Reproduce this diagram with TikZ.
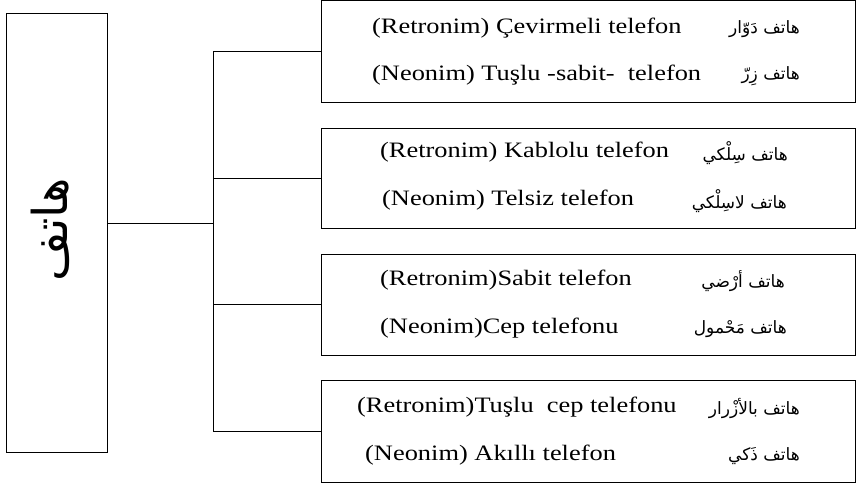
\documentclass[tikz,border=0pt]{standalone}
\usepackage{fontspec}
\TeXXeTstate=1
\setmainfont{Liberation Serif}
\newfontfamily\turk[FakeStretch=1.2]{Liberation Serif}
\newfontfamily\arabicfont[Script=Arabic]{DejaVu Sans}
\tikzset{
  box/.style={draw=black, line width=0.9pt, inner sep=0pt},
  conn/.style={draw=black, line width=0.9pt},
  tr/.style={anchor=west, inner sep=0pt, font=\turk\fontsize{22}{24}\selectfont},
  ar/.style={anchor=east, inner sep=0pt, font=\arabicfont\fontsize{17}{20}\selectfont},
}
\begin{document}
\begin{tikzpicture}[x=1pt,y=-1pt]
\useasboundingbox (0,0) rectangle (857,483);
% root
\node[box, minimum width=101pt, minimum height=439pt] (root) at (56.5,232.5) {};
\node[inner sep=0pt, rotate=90, font=\arabicfont\fontsize{48}{48}\selectfont] (rootlbl) at (50,230) {\beginR هاتف\endR};
% right boxes
\node[box, minimum width=534.5pt, minimum height=101.5pt] (b1) at (588.25,51.25) {};
\node[box, minimum width=534.5pt, minimum height=100pt] (b2) at (588.25,178) {};
\node[box, minimum width=534.5pt, minimum height=101pt] (b3) at (588.25,304.5) {};
\node[box, minimum width=534.5pt, minimum height=102pt] (b4) at (588.25,431) {};
% connectors
\coordinate (j) at (213,223);
\draw[conn] (root.east |- j) -- (j);
\draw[conn] (j |- b1.west) -- (j |- b4.west);
\draw[conn] (j |- b1.west) -- (b1.west);
\draw[conn] (j |- b2.west) -- (b2.west);
\draw[conn] (j |- b3.west) -- (b3.west);
\draw[conn] (j |- b4.west) -- (b4.west);
% Turkish texts
\node[tr] (t1) at (372,28) {(Retronim) Çevirmeli telefon};
\node[tr] (t2) at (372,75) {(Neonim) Tuşlu -sabit-\ \ telefon};
\node[tr] (t3) at (380,152) {(Retronim) Kablolu telefon};
\node[tr] (t4) at (382,200) {(Neonim) Telsiz telefon};
\node[tr] (t5) at (380,280) {(Retronim)Sabit telefon};
\node[tr] (t6) at (380,328) {(Neonim)Cep telefonu};
\node[tr] (t7) at (357,407) {(Retronim)Tuşlu\ \ cep telefonu};
\node[tr] (t8) at (365,455) {(Neonim) Akıllı telefon};
% Arabic texts
\node[ar] (a1) at (800,29) {\beginR هاتف دَوّار\endR};
\node[ar] (a2) at (800,76) {\beginR هاتف زِرّ\endR};
\node[ar] (a3) at (788,153) {\beginR هاتف سِلْكي\endR};
\node[ar] (a4) at (787,201) {\beginR هاتف لاسِلْكي\endR};
\node[ar] (a5) at (785,281) {\beginR هاتف أرْضي\endR};
\node[ar] (a6) at (787,329) {\beginR هاتف مَحْمول\endR};
\node[ar] (a7) at (800,408) {\beginR هاتف بالأزْرار\endR};
\node[ar] (a8) at (800,456) {\beginR هاتف ذَكي\endR};
\end{tikzpicture}
\end{document}
